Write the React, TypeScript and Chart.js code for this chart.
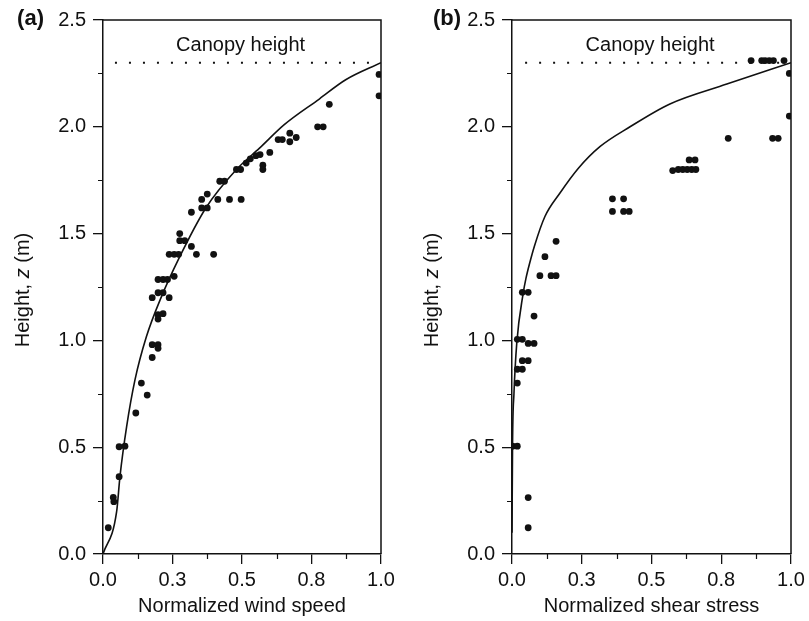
import React, { useEffect, useRef } from 'react';
import { Chart, registerables } from 'chart.js';
Chart.register(...registerables);

// ---------- data ----------
const windSpeed = [
  0.993, 0.993, 0.814, 0.772, 0.792, 0.672, 0.672, 0.695, 0.63, 0.645,
  0.60, 0.53, 0.55, 0.565, 0.575, 0.575, 0.515, 0.48, 0.495, 0.42,
  0.437, 0.455, 0.497, 0.413, 0.375, 0.355, 0.355, 0.375, 0.318, 0.276,
  0.276, 0.294, 0.318, 0.238, 0.256, 0.272, 0.336, 0.398, 0.198, 0.216,
  0.232, 0.256, 0.177, 0.238, 0.198, 0.216, 0.198, 0.198, 0.216, 0.177,
  0.198, 0.198, 0.177, 0.138, 0.159, 0.118, 0.058, 0.079, 0.058, 0.037,
  0.039, 0.019,
];
const windHeight = [
  2.245, 2.145, 2.105, 2.0, 2.0, 1.97, 1.93, 1.95, 1.94, 1.94,
  1.88, 1.85, 1.865, 1.87, 1.82, 1.80, 1.83, 1.80, 1.80, 1.745,
  1.745, 1.66, 1.66, 1.66, 1.685, 1.66, 1.62, 1.62, 1.60, 1.50,
  1.467, 1.467, 1.44, 1.403, 1.403, 1.403, 1.403, 1.403, 1.285, 1.285,
  1.285, 1.30, 1.20, 1.20, 1.223, 1.223, 1.12, 1.10, 1.125, 0.98,
  0.98, 0.963, 0.92, 0.80, 0.744, 0.66, 0.502, 0.505, 0.362, 0.265,
  0.245, 0.123,
];
const windCurveSpeed = [0, 0.049, 0.061, 0.085, 0.115, 0.156, 0.21, 0.27, 0.37, 0.48, 0.563, 0.652, 0.778, 0.873, 1.0];
const windCurveHeight = [0, 0.198, 0.362, 0.596, 0.815, 1.017, 1.204, 1.376, 1.62, 1.80, 1.90, 2.01, 2.13, 2.22, 2.30];

const shearStress = [
  0.857, 0.895, 0.907, 0.922, 0.937, 0.975, 0.994, 0.994, 0.775, 0.934,
  0.954, 0.576, 0.596, 0.612, 0.628, 0.644, 0.659, 0.635, 0.656, 0.36,
  0.40, 0.36, 0.40, 0.42, 0.158, 0.118, 0.10, 0.14, 0.158, 0.037,
  0.058, 0.079, 0.019, 0.037, 0.058, 0.079, 0.037, 0.058, 0.019, 0.037,
  0.019, 0.002, 0.019, 0.058, 0.058,
];
const shearHeight = [
  2.31, 2.31, 2.31, 2.31, 2.31, 2.31, 2.25, 2.05, 1.946, 1.946,
  1.946, 1.795, 1.80, 1.80, 1.80, 1.80, 1.80, 1.845, 1.845, 1.663,
  1.663, 1.604, 1.604, 1.604, 1.464, 1.392, 1.303, 1.303, 1.303, 1.225,
  1.225, 1.114, 1.005, 1.005, 0.986, 0.986, 0.905, 0.905, 0.865, 0.865,
  0.80, 0.505, 0.505, 0.264, 0.123,
];
const shearCurveStress = [0, 0.002, 0.007, 0.017, 0.04, 0.05, 0.063, 0.08, 0.118, 0.172, 0.238, 0.315, 0.423, 0.566, 0.77, 1.0];
const shearCurveHeight = [0.1, 0.52, 0.75, 0.986, 1.22, 1.29, 1.36, 1.44, 1.58, 1.69, 1.806, 1.907, 2.0, 2.107, 2.20, 2.30];

const canopyHeight = 2.3;
const canopyLabel = 'Canopy height';
const xTickValues = [0, 0.25, 0.5, 0.75, 1.0];
const xTickLabels = ['0.0', '0.3', '0.5', '0.8', '1.0'];
const xMinorTicks = [0.125, 0.375, 0.625, 0.875];
const yTickValues = [0, 0.5, 1.0, 1.5, 2.0, 2.5];
const yTickLabels = ['0.0', '0.5', '1.0', '1.5', '2.0', '2.5'];
const yMinorTicks = [0.25, 0.75, 1.25, 1.75, 2.25];

const FONT = '"Liberation Sans", Arial, Helvetica, sans-serif';
const INK = '#111';

const decorPlugin = {
  id: 'decor',
  afterDraw(chart: any, _args: any, opts: any) {
    const { ctx, chartArea, scales } = chart;
    const { left, right, top, bottom } = chartArea;
    const xs = scales.x, ys = scales.y;
    ctx.save();
    ctx.strokeStyle = INK;
    ctx.lineWidth = 1.5;
    ctx.beginPath();
    ctx.moveTo(left, top);
    ctx.lineTo(right, top);
    ctx.lineTo(right, bottom);
    ctx.stroke();
    ctx.lineWidth = 1.2;
    ctx.beginPath();
    xMinorTicks.forEach((v) => {
      const px = Math.round(xs.getPixelForValue(v)) + 0.5;
      ctx.moveTo(px, bottom);
      ctx.lineTo(px, bottom + 5);
    });
    yMinorTicks.forEach((v) => {
      const py = Math.round(ys.getPixelForValue(v)) + 0.5;
      ctx.moveTo(left, py);
      ctx.lineTo(left - 5, py);
    });
    ctx.stroke();

    ctx.fillStyle = INK;
    // panel tag
    ctx.font = `bold 22px ${FONT}`;
    ctx.textAlign = 'right';
    ctx.textBaseline = 'middle';
    ctx.fillText(opts.tag, opts.tagX, 19);

    // canopy label
    ctx.font = `20px ${FONT}`;
    ctx.textAlign = 'center';
    ctx.fillText(canopyLabel, xs.getPixelForValue(0.495), ys.getPixelForValue(2.38));

    // y title with italic z
    const parts = [
      { t: 'Height, ', f: `20px ${FONT}` },
      { t: 'z', f: `italic 20px ${FONT}` },
      { t: ' (m)', f: `20px ${FONT}` },
    ];
    let total = 0;
    const widths = parts.map((p) => {
      ctx.font = p.f;
      const w = ctx.measureText(p.t).width;
      total += w;
      return w;
    });
    ctx.translate(opts.titleX, (top + bottom) / 2 + 3);
    ctx.rotate(-Math.PI / 2);
    ctx.textAlign = 'left';
    let cx = -total / 2;
    parts.forEach((p, i) => {
      ctx.font = p.f;
      ctx.fillText(p.t, cx, 0);
      cx += widths[i];
    });
    ctx.restore();
  },
};

function Panel(props: {
  left: number; width: number; tag: string; tagX: number; xTitle: string;
  px: number[]; py: number[]; cx: number[]; cy: number[]; lineStart: number; rightPad: number;
}) {
  const ref = useRef<HTMLCanvasElement>(null);
  useEffect(() => {
    const pts = props.px.map((x, i) => ({ x, y: props.py[i] }));
    const curve = props.cx.map((x, i) => ({ x, y: props.cy[i] }));
    const chart = new Chart(ref.current as HTMLCanvasElement, {
      type: 'scatter',
      data: {
        datasets: [
          {
            data: pts, backgroundColor: INK, borderColor: INK, pointRadius: 3.4,
            pointBorderWidth: 0, pointHoverRadius: 3.4, order: 0,
          } as any,
          {
            data: curve, showLine: true, borderColor: INK, borderWidth: 1.6, pointRadius: 0,
            cubicInterpolationMode: 'monotone', order: 1,
          } as any,
          {
            data: [{ x: props.lineStart, y: canopyHeight }, { x: 1, y: canopyHeight }],
            showLine: true, borderColor: INK, borderWidth: 2, borderDash: [2, 12],
            pointRadius: 0, order: 2,
          } as any,
        ],
      },
      options: {
        responsive: false,
        animation: false,
        devicePixelRatio: 1,
        layout: { padding: { top: 20, right: props.rightPad, left: 0, bottom: 0 } },
        plugins: {
          legend: { display: false },
          tooltip: { enabled: false },
          decor: { tag: props.tag, tagX: props.tagX, titleX: 23 },
        } as any,
        scales: {
          x: {
            type: 'linear', min: 0, max: 1,
            afterBuildTicks: (s: any) => { s.ticks = xTickValues.map((v) => ({ value: v })); },
            afterFit: (s: any) => { s.height = 67; },
            ticks: {
              autoSkip: false, maxRotation: 0, padding: 4, color: INK,
              font: { size: 20, family: FONT },
              callback: (v: any) => {
                const i = xTickValues.findIndex((t) => Math.abs(t - Number(v)) < 1e-6);
                return i >= 0 ? xTickLabels[i] : '';
              },
            },
            grid: { drawOnChartArea: false, tickLength: 10, color: INK, lineWidth: 1.3 },
            border: { color: INK, width: 1.5 },
            title: {
              display: true, text: props.xTitle, color: INK,
              font: { size: 20, family: FONT }, padding: { top: 0, bottom: 3 },
            },
          },
          y: {
            type: 'linear', min: 0, max: 2.5,
            afterBuildTicks: (s: any) => { s.ticks = yTickValues.map((v) => ({ value: v })); },
            afterFit: (s: any) => { s.width = 103; },
            ticks: {
              autoSkip: false, padding: 7, color: INK,
              font: { size: 20, family: FONT },
              callback: (v: any) => {
                const i = yTickValues.findIndex((t) => Math.abs(t - Number(v)) < 1e-6);
                return i >= 0 ? yTickLabels[i] : '';
              },
            },
            grid: { drawOnChartArea: false, tickLength: 10, color: INK, lineWidth: 1.3 },
            border: { color: INK, width: 1.5 },
          },
        },
      },
      plugins: [decorPlugin as any],
    });
    return () => chart.destroy();
  }, []);
  return (
    <canvas
      ref={ref}
      width={props.width}
      height={621}
      style={{ position: 'absolute', left: props.left, top: 0, width: props.width, height: 621 }}
    />
  );
}

export default function App() {
  return (
    <div style={{ position: 'fixed', left: 0, top: 0, width: 809, height: 621, background: '#fff', overflow: 'hidden' }}>
      <Panel left={0} width={400} tag="(a)" tagX={44} xTitle="Normalized wind speed"
        px={windSpeed} py={windHeight} cx={windCurveSpeed} cy={windCurveHeight} lineStart={0.043} rightPad={19} />
      <Panel left={409} width={400} tag="(b)" tagX={52} xTitle="Normalized shear stress"
        px={shearStress} py={shearHeight} cx={shearCurveStress} cy={shearCurveHeight} lineStart={0.047} rightPad={18} />
    </div>
  );
}
